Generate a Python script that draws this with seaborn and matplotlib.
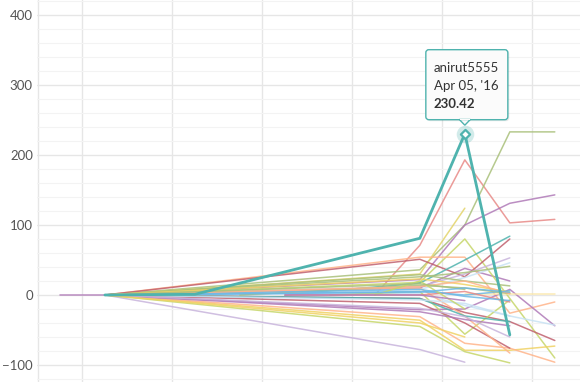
import matplotlib
matplotlib.use("Agg")
import matplotlib.pyplot as plt
import matplotlib.transforms as mtransforms
from matplotlib.patches import FancyBboxPatch, Polygon, Rectangle
import seaborn as sns
import pandas as pd
import numpy as np

N = None

# weekly steps (index 0..11), values per user
weeks = list(range(12))

anirut5555 = [N, 0, N, 1, N, N, N, N, 81, 230.42, -57, N]
line_purple0 = [0, 0, N, N, N, N, N, N, 10, 38, 20, N]
line_red_peak = [N, N, N, N, N, N, N, 0, 71, 193, 103, 108]
line_olive_up = [N, 0, N, N, N, N, N, N, 36, 100, 233, 233]
line_purple_up = [N, 0, N, N, N, N, N, N, 22, 100, 131, 143]
line_yellow_up = [N, 0, N, N, N, N, N, N, 30, 124, N, N]
line_lime_peak = [N, 0, N, N, N, N, N, N, 18, 80, -5, -90]
line_orange_flat = [N, 0, N, N, N, N, N, N, 54, 54, -26, -10]
line_darkred = [N, 0, N, N, N, N, N, N, 51, 26, 80, N]
line_teal_thin = [N, N, N, N, N, 0, N, N, 17, 50, 84, N]
line_lavender = [N, 0, N, N, N, N, N, N, -78, -96, N, N]
line_lavender2 = [N, 0, N, N, N, N, N, N, 12, 30, 53, N]
line_paleblue = [N, N, N, N, 0, N, N, N, 8, 25, 46, N]
line_olive2 = [N, 0, N, N, N, N, N, N, 26, 32, 41, N]
line_purple3 = [N, 0, N, N, N, N, N, N, -21, -20, 8, -44]
line_lightblue = [N, N, 0, N, N, N, N, N, 2, -15, -30, -43]
line_darkred2 = [N, 0, N, N, N, N, N, N, -5, -25, -38, -65]
line_yellow_flat = [N, N, N, N, N, N, N, N, N, 2, 2, 2]
line_yellow_low = [N, 0, N, N, N, N, N, N, -36, -79, -79, -73]
line_orange_low = [N, 0, N, N, N, N, N, N, -31, -69, -76, -96]
line_lime_low = [N, 0, N, N, N, N, N, N, -45, -81, -97, N]
line_lime_v = [N, N, N, N, N, N, 0, N, 5, -56, -7, N]
line_darkred_low = [N, 0, N, N, N, N, N, N, -12, -40, -76, N]
line_orange3 = [N, 0, N, N, N, N, N, N, 10, -30, -83, N]
line_blue2 = [N, N, 0, N, N, N, N, N, 5, 0, 6, N]
line_teal3 = [N, 0, N, N, N, N, N, N, -5, -30, -38, N]
line_olive3 = [N, 0, N, N, N, N, N, N, 29, 20, 13, N]
line_yellow3 = [N, 0, N, N, N, N, N, N, 23, 15, 4, N]
line_purple4 = [N, 0, N, N, N, N, N, N, -24, -35, -44, N]
line_paleblue2 = [N, 0, N, N, N, N, N, N, -7, -12, -30, N]
line_lavender3 = [N, 0, N, N, N, N, N, N, -19, -31, -60, N]
line_green4 = [N, N, N, N, 0, N, N, N, 14, 10, 2, N]
line_red4 = [N, N, N, N, N, 0, N, N, 0, 5, -10, N]
line_blue3 = [N, 0, N, N, N, N, N, N, 8, -2, -8, N]
line_orange4 = [N, 0, N, N, N, N, N, N, 12, 20, 2, N]
line_yellow4 = [N, 0, N, N, N, N, N, N, -40, -60, N, N]
line_lime5 = [N, N, N, N, N, N, N, 0, 20, -20, N, N]
line_purple5 = [N, N, N, N, N, 0, N, N, 0, -8, N, N]
line_olive6 = [N, 0, N, N, N, N, N, N, 16, 8, N, N]
line_blue6 = [N, 0, N, N, N, N, N, N, 4, 10, 4, N]

series = {
    "anirut5555": (anirut5555, "#4fb3ae"),
    "u01": (line_purple0, "#b07ab8"),
    "u02": (line_red_peak, "#e88a87"),
    "u03": (line_olive_up, "#a9c07a"),
    "u04": (line_purple_up, "#b07ab8"),
    "u05": (line_yellow_up, "#e3d46a"),
    "u06": (line_lime_peak, "#c6d66a"),
    "u07": (line_orange_flat, "#ffb48a"),
    "u08": (line_darkred, "#c0606e"),
    "u09": (line_teal_thin, "#4fb3ae"),
    "u10": (line_lavender, "#c8b4dc"),
    "u11": (line_lavender2, "#c8b4dc"),
    "u12": (line_paleblue, "#c8e2f4"),
    "u13": (line_olive2, "#a9c07a"),
    "u14": (line_purple3, "#b07ab8"),
    "u15": (line_lightblue, "#c8e2f4"),
    "u16": (line_darkred2, "#c0606e"),
    "u17": (line_yellow_flat, "#fbe7a8"),
    "u18": (line_yellow_low, "#f0d264"),
    "u19": (line_orange_low, "#ffb48a"),
    "u20": (line_lime_low, "#c6d66a"),
    "u21": (line_lime_v, "#c6d66a"),
    "u22": (line_darkred_low, "#c0606e"),
    "u23": (line_orange3, "#ffb48a"),
    "u24": (line_blue2, "#6cb8e6"),
    "u25": (line_teal3, "#4fb3ae"),
    "u26": (line_olive3, "#a9c07a"),
    "u27": (line_yellow3, "#f0d264"),
    "u28": (line_purple4, "#b07ab8"),
    "u29": (line_paleblue2, "#c8e2f4"),
    "u30": (line_lavender3, "#c8b4dc"),
    "u31": (line_green4, "#a9c07a"),
    "u32": (line_red4, "#e88a87"),
    "u33": (line_blue3, "#6cb8e6"),
    "u34": (line_orange4, "#ffb48a"),
    "u35": (line_yellow4, "#f0d264"),
    "u36": (line_lime5, "#c6d66a"),
    "u37": (line_purple5, "#b07ab8"),
    "u38": (line_olive6, "#a9c07a"),
    "u39": (line_blue6, "#6cb8e6"),
}

rows = []
for user, (vals, _) in series.items():
    for w, v in zip(weeks, vals):
        if v is not None:
            rows.append({"user": user, "week": w, "value": v})
df = pd.DataFrame(rows)
palette = {u: c for u, (_, c) in series.items()}

sns.set_theme(style="white")
plt.rcParams["font.family"] = ["Lato", "DejaVu Sans"]

fig = plt.figure(figsize=(5.8, 3.82), dpi=100)
ax = fig.add_axes([37 / 580, 0, 543 / 580, 1])

others = df[df["user"] != "anirut5555"]
sns.lineplot(data=others, x="week", y="value", hue="user", palette=palette,
             estimator=None, sort=False, legend=False, linewidth=1.1, alpha=0.85, ax=ax)
hl = df[df["user"] == "anirut5555"]
sns.lineplot(data=hl, x="week", y="value", color="#4fb3ae", estimator=None,
             sort=False, legend=False, linewidth=2.0, ax=ax)

# highlighted point
px, py = 9, 230.42
ax.scatter([px], [py], s=160, color="#4fb3ae", alpha=0.25, linewidths=0, zorder=5)
ax.scatter([px], [py], s=22, marker="D", facecolor="white", edgecolor="#4fb3ae",
           linewidths=1.6, zorder=6)

ax.set_xlim(-0.51, 11.56)
ax.set_ylim(-124.3, 421.4)
ax.set_xticks([-0.49, 0.5, 2.5, 4.5, 6.5, 8.5, 10.5])
ax.set_xticklabels([])
ax.set_yticks(np.arange(-100, 401, 100))
ax.set_yticks(np.arange(-120, 421, 20), minor=True)
ax.grid(True, which="major", color="#e6e6e6", linewidth=1.0)
ax.grid(True, which="minor", axis="y", color="#f3f3f3", linewidth=0.8)
ax.set_axisbelow(True)
for s in ax.spines.values():
    s.set_visible(False)
ax.tick_params(axis="y", which="both", length=0, pad=3, labelsize=9.5, labelcolor="#555555")
ax.tick_params(axis="x", length=0)
ax.set_xlabel("")
ax.set_ylabel("")

# tooltip, positioned in inches relative to the point
tt = fig.dpi_scale_trans + mtransforms.ScaledTranslation(px, py, ax.transData)
ax.add_patch(FancyBboxPatch((-0.375, 0.125), 0.82, 0.70, boxstyle="round,pad=0,rounding_size=0.03",
                            transform=tt, facecolor="#000000", alpha=0.08,
                            edgecolor="none", zorder=7, clip_on=False))
ax.add_patch(FancyBboxPatch((-0.39, 0.14), 0.82, 0.70, boxstyle="round,pad=0,rounding_size=0.03",
                            transform=tt, facecolor="#fbfbfb", edgecolor="#4fb3ae",
                            linewidth=1.0, zorder=8, clip_on=False))
ax.add_patch(Polygon([(-0.055, 0.142), (0.055, 0.142), (0.0, 0.085)], closed=True,
                     transform=tt, facecolor="#fbfbfb", edgecolor="#4fb3ae",
                     linewidth=1.0, zorder=8, clip_on=False))
ax.add_patch(Rectangle((-0.05, 0.135), 0.10, 0.012, transform=tt, facecolor="#fbfbfb",
                       edgecolor="none", zorder=9, clip_on=False))
ax.text(-0.31, 0.66, "anirut5555", transform=tt, fontsize=9.5, color="#333333",
        va="center", ha="left", zorder=10)
ax.text(-0.31, 0.48, "Apr 05, '16", transform=tt, fontsize=9.5, color="#333333",
        va="center", ha="left", zorder=10)
ax.text(-0.31, 0.30, f"{py:.2f}", transform=tt, fontsize=9.5, color="#333333",
        fontweight="bold", va="center", ha="left", zorder=10)

fig.savefig("out.png", dpi=100)
